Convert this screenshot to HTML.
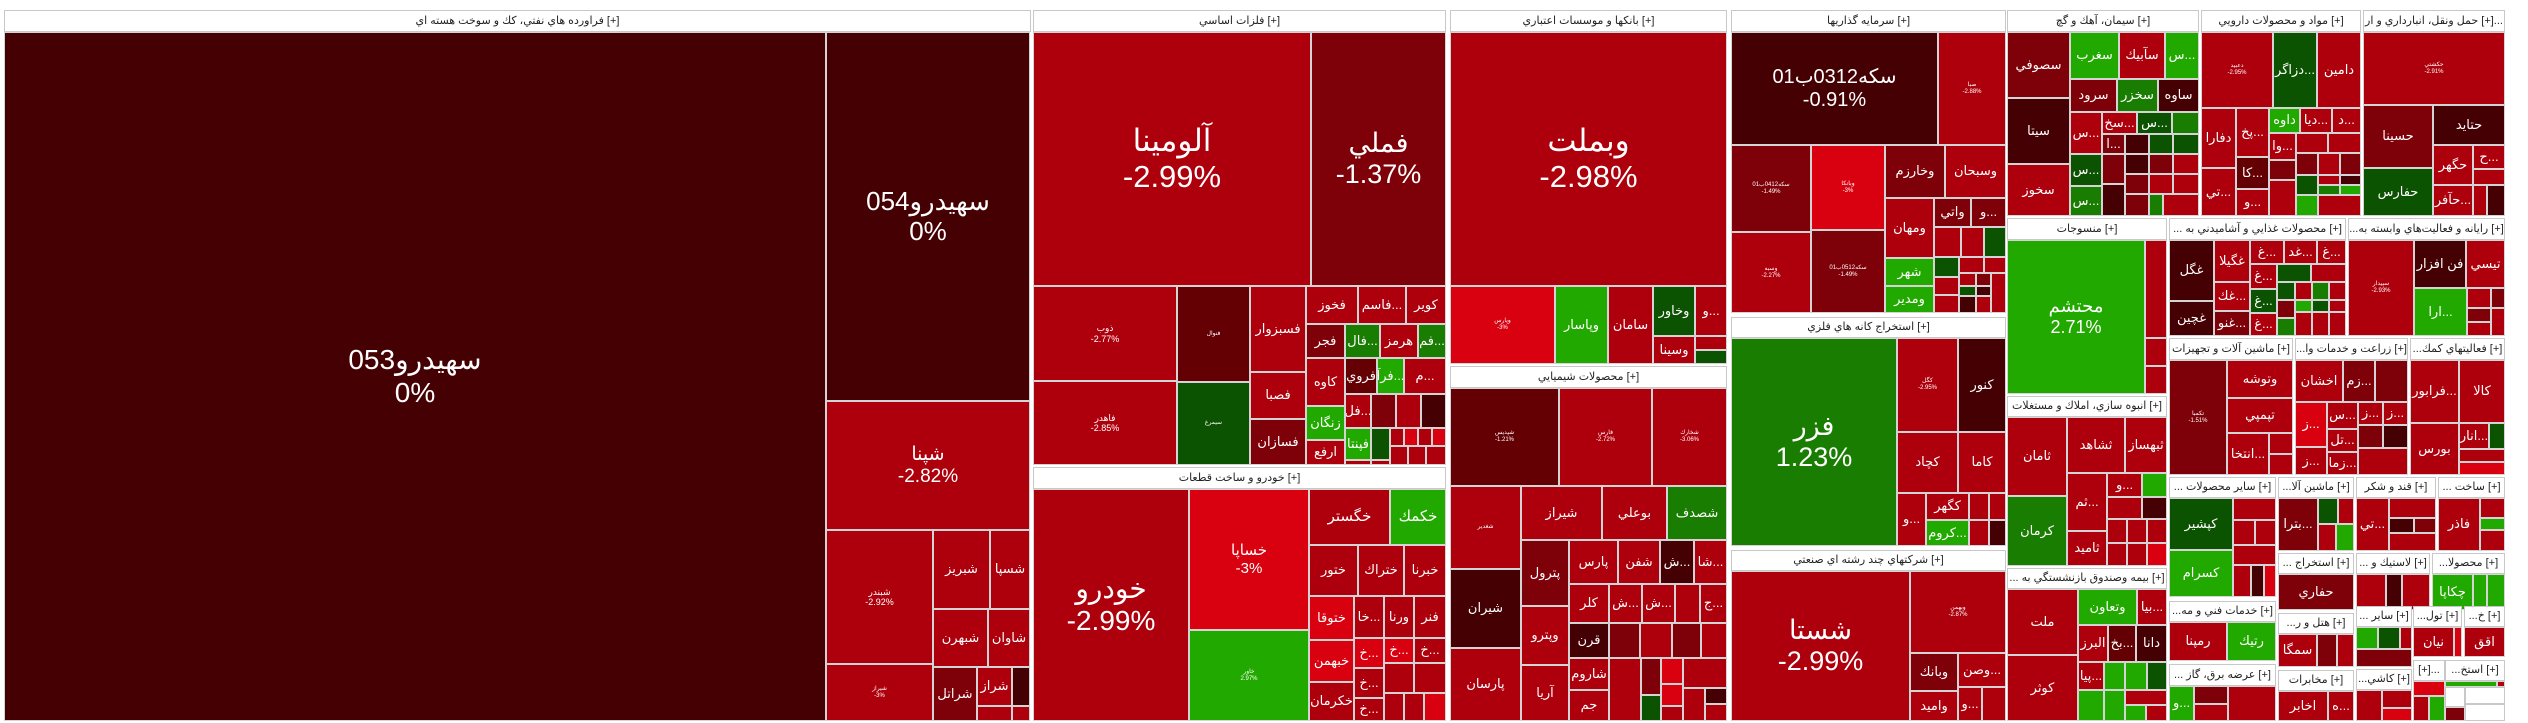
<!DOCTYPE html>
<html><head><meta charset="utf-8"><style>
body{margin:0;width:2528px;height:723px;background:#fff;position:relative;overflow:hidden}
.t{position:absolute;box-sizing:border-box;border:1px solid #d4d4d4;color:#fff;display:flex;flex-direction:column;align-items:center;justify-content:center;text-align:center;overflow:hidden;white-space:nowrap;font-family:"Liberation Sans","DejaVu Sans",sans-serif;font-size:13px;line-height:1.15}
.h{background:#fff;color:#222;font-size:11px;border:1px solid #c8c8c8}
.d{background:#450003}.r3{background:#640004}.r2{background:#7e0008}.r1{background:#ad000c}.br{background:#d9000f}
.g1{background:#22a900}.g2{background:#187d00}.g3{background:#0b5300}
.s{font-size:6px}.m{font-size:9px}
</style></head><body>
<!-- Oil -->
<div class="t h" style="left:4px;top:10px;width:1027px;height:22px">فراورده هاي نفتي، كك و سوخت هسته اي [+]</div>
<div class="t d" style="left:4px;top:32px;width:822px;height:689px;font-size:28px">سهيدرو053<br>0%</div>
<div class="t d" style="left:826px;top:32px;width:204px;height:369px;font-size:26px">سهيدرو054<br>0%</div>
<div class="t r1" style="left:826px;top:401px;width:204px;height:129px;font-size:19px">شپنا<br>-2.82%</div>
<div class="t r1 m" style="left:826px;top:530px;width:107px;height:134px">شبندر<br>-2.92%</div>
<div class="t r1" style="left:933px;top:530px;width:57px;height:79px">شبريز</div>
<div class="t r1" style="left:990px;top:530px;width:40px;height:79px">شسپا</div>
<div class="t r1" style="left:933px;top:609px;width:55px;height:58px">شبهرن</div>
<div class="t r1" style="left:988px;top:609px;width:42px;height:58px">شاوان</div>
<div class="t r1 s" style="left:826px;top:664px;width:107px;height:57px">شيراز<br>-3%</div>
<div class="t r2" style="left:933px;top:667px;width:44px;height:54px">شراتل</div>
<div class="t r1" style="left:977px;top:667px;width:35px;height:39px">شراز</div>
<div class="t d" style="left:1012px;top:667px;width:18px;height:39px"></div>
<div class="t r1" style="left:977px;top:706px;width:35px;height:15px"></div>
<div class="t r1" style="left:1012px;top:706px;width:18px;height:15px"></div>
<!-- Metals -->
<div class="t h" style="left:1033px;top:10px;width:413px;height:22px">فلزات اساسي [+]</div>
<div class="t r1" style="left:1033px;top:32px;width:278px;height:254px;font-size:31px">آلومينا<br>-2.99%</div>
<div class="t r2" style="left:1311px;top:32px;width:135px;height:254px;font-size:27px">فملي<br>-1.37%</div>
<div class="t r1 m" style="left:1033px;top:286px;width:144px;height:95px">ذوب<br>-2.77%</div>
<div class="t r1 m" style="left:1033px;top:381px;width:144px;height:84px">فاهدر<br>-2.85%</div>
<div class="t r3 s" style="left:1177px;top:286px;width:73px;height:96px">فنوال</div>
<div class="t g3 s" style="left:1177px;top:382px;width:73px;height:83px">سيمرغ</div>
<div class="t r1" style="left:1250px;top:286px;width:56px;height:86px">فسبزوار</div>
<div class="t r1" style="left:1250px;top:372px;width:56px;height:47px">فصبا</div>
<div class="t r2" style="left:1250px;top:419px;width:56px;height:46px">فسازان</div>
<div class="t r1" style="left:1306px;top:286px;width:52px;height:38px">فخوز</div>
<div class="t r1" style="left:1358px;top:286px;width:48px;height:38px">فاسم...</div>
<div class="t r1" style="left:1406px;top:286px;width:40px;height:38px">كوير</div>
<div class="t r2" style="left:1306px;top:324px;width:39px;height:34px">فجر</div>
<div class="t g2" style="left:1345px;top:324px;width:35px;height:34px">فال...</div>
<div class="t r1" style="left:1380px;top:324px;width:38px;height:34px">هرمز</div>
<div class="t g2" style="left:1418px;top:324px;width:28px;height:34px">فم...</div>
<div class="t r1" style="left:1306px;top:358px;width:39px;height:48px">كاوه</div>
<div class="t r3" style="left:1345px;top:358px;width:32px;height:36px">فروي</div>
<div class="t g1" style="left:1377px;top:358px;width:27px;height:36px">فرآ...</div>
<div class="t r1" style="left:1404px;top:358px;width:42px;height:36px">م...</div>
<div class="t r1" style="left:1345px;top:394px;width:26px;height:34px">فل...</div>
<div class="t r2" style="left:1371px;top:394px;width:25px;height:34px"></div>
<div class="t r1" style="left:1396px;top:394px;width:25px;height:34px"></div>
<div class="t d" style="left:1421px;top:394px;width:25px;height:34px"></div>
<div class="t g1" style="left:1306px;top:406px;width:39px;height:34px">زنگان</div>
<div class="t r1" style="left:1306px;top:440px;width:39px;height:25px">ارفع</div>
<div class="t g1" style="left:1345px;top:428px;width:26px;height:32px">فپنتا</div>
<div class="t r1" style="left:1345px;top:460px;width:26px;height:5px"></div>
<div class="t g3" style="left:1371px;top:428px;width:19px;height:32px"></div>
<div class="t r1" style="left:1371px;top:460px;width:19px;height:5px"></div>
<div class="t r1" style="left:1390px;top:428px;width:14px;height:18px"></div>
<div class="t br" style="left:1404px;top:428px;width:14px;height:18px"></div>
<div class="t r1" style="left:1418px;top:428px;width:14px;height:18px"></div>
<div class="t br" style="left:1432px;top:428px;width:14px;height:18px"></div>
<div class="t r1" style="left:1390px;top:446px;width:18px;height:19px"></div>
<div class="t r1" style="left:1408px;top:446px;width:18px;height:19px"></div>
<div class="t r1" style="left:1426px;top:446px;width:20px;height:19px"></div>
<!-- Auto -->
<div class="t h" style="left:1033px;top:467px;width:413px;height:22px">خودرو و ساخت قطعات [+]</div>
<div class="t r1" style="left:1033px;top:489px;width:156px;height:232px;font-size:28px">خودرو<br>-2.99%</div>
<div class="t br" style="left:1189px;top:489px;width:120px;height:141px;font-size:15px">خساپا<br>-3%</div>
<div class="t g1 s" style="left:1189px;top:630px;width:120px;height:91px">خاور<br>2.97%</div>
<div class="t r1" style="left:1309px;top:489px;width:81px;height:56px;font-size:15px">خگستر</div>
<div class="t g1" style="left:1390px;top:489px;width:56px;height:56px;font-size:15px">خكمك</div>
<div class="t r1" style="left:1309px;top:545px;width:49px;height:51px">ختور</div>
<div class="t r1" style="left:1358px;top:545px;width:46px;height:51px">ختراك</div>
<div class="t r1" style="left:1404px;top:545px;width:42px;height:51px">خبرنا</div>
<div class="t br" style="left:1309px;top:596px;width:45px;height:44px">ختوقا</div>
<div class="t r1" style="left:1354px;top:596px;width:30px;height:42px">خا...</div>
<div class="t r1" style="left:1384px;top:596px;width:30px;height:42px">ورنا</div>
<div class="t r1" style="left:1414px;top:596px;width:32px;height:42px">فنر</div>
<div class="t br" style="left:1309px;top:640px;width:45px;height:42px">خبهمن</div>
<div class="t r1" style="left:1309px;top:682px;width:45px;height:39px">خكرمان</div>
<div class="t br" style="left:1354px;top:638px;width:30px;height:30px">خ...</div>
<div class="t br" style="left:1384px;top:638px;width:30px;height:25px">خ...</div>
<div class="t r1" style="left:1414px;top:638px;width:32px;height:25px">خ...</div>
<div class="t r1" style="left:1354px;top:668px;width:30px;height:30px">خ...</div>
<div class="t r1" style="left:1354px;top:698px;width:30px;height:23px">خ...</div>
<div class="t r1" style="left:1384px;top:663px;width:30px;height:30px"></div>
<div class="t r1" style="left:1414px;top:663px;width:32px;height:30px"></div>
<div class="t r1" style="left:1384px;top:693px;width:20px;height:28px"></div>
<div class="t r1" style="left:1404px;top:693px;width:20px;height:28px"></div>
<div class="t br" style="left:1424px;top:693px;width:22px;height:28px"></div>
<!-- Banks -->
<div class="t h" style="left:1450px;top:10px;width:277px;height:22px">بانكها و موسسات اعتباري [+]</div>
<div class="t r1" style="left:1450px;top:32px;width:277px;height:254px;font-size:31px">وبملت<br>-2.98%</div>
<div class="t br s" style="left:1450px;top:286px;width:105px;height:78px">وپارس<br>-3%</div>
<div class="t g1" style="left:1555px;top:286px;width:53px;height:78px">وپاسار</div>
<div class="t r1" style="left:1608px;top:286px;width:45px;height:78px">سامان</div>
<div class="t g3" style="left:1653px;top:286px;width:42px;height:50px">وخاور</div>
<div class="t r1" style="left:1653px;top:336px;width:42px;height:28px">وسينا</div>
<div class="t r1" style="left:1695px;top:286px;width:32px;height:50px">و...</div>
<div class="t r1" style="left:1695px;top:336px;width:32px;height:14px"></div>
<div class="t g3" style="left:1695px;top:350px;width:32px;height:14px"></div>
<!-- Chem -->
<div class="t h" style="left:1450px;top:366px;width:277px;height:22px">محصولات شيميايي [+]</div>
<div class="t r3 s" style="left:1450px;top:388px;width:109px;height:98px">شپديس<br>-1.21%</div>
<div class="t r1 s" style="left:1559px;top:388px;width:93px;height:98px">فارس<br>-2.72%</div>
<div class="t r1 s" style="left:1652px;top:388px;width:75px;height:98px">شخارك<br>-3.06%</div>
<div class="t r1 s" style="left:1450px;top:486px;width:71px;height:83px">شغدير</div>
<div class="t d" style="left:1450px;top:569px;width:71px;height:79px">شيران</div>
<div class="t r1" style="left:1450px;top:648px;width:71px;height:73px">پارسان</div>
<div class="t r1" style="left:1521px;top:486px;width:81px;height:54px">شيراز</div>
<div class="t r1" style="left:1602px;top:486px;width:65px;height:54px">بوعلي</div>
<div class="t g2" style="left:1667px;top:486px;width:60px;height:54px">شصدف</div>
<div class="t r2" style="left:1521px;top:540px;width:48px;height:66px">پترول</div>
<div class="t r1" style="left:1521px;top:606px;width:48px;height:59px">وپترو</div>
<div class="t r1" style="left:1521px;top:665px;width:48px;height:56px">آريا</div>
<div class="t r1" style="left:1569px;top:540px;width:49px;height:44px">پارس</div>
<div class="t r1" style="left:1618px;top:540px;width:42px;height:44px">شفن</div>
<div class="t d" style="left:1660px;top:540px;width:34px;height:44px">ش...</div>
<div class="t r1" style="left:1694px;top:540px;width:33px;height:44px">شا...</div>
<div class="t r1" style="left:1569px;top:584px;width:40px;height:39px">كلر</div>
<div class="t r1" style="left:1609px;top:584px;width:33px;height:39px">ش...</div>
<div class="t r1" style="left:1642px;top:584px;width:33px;height:39px">ش...</div>
<div class="t r1" style="left:1675px;top:584px;width:25px;height:39px"></div>
<div class="t r1" style="left:1700px;top:584px;width:27px;height:39px">ج...</div>
<div class="t d" style="left:1569px;top:623px;width:40px;height:35px">قرن</div>
<div class="t r2" style="left:1609px;top:623px;width:31px;height:35px"></div>
<div class="t r1" style="left:1640px;top:623px;width:32px;height:35px"></div>
<div class="t r2" style="left:1672px;top:623px;width:29px;height:35px"></div>
<div class="t r1" style="left:1701px;top:623px;width:26px;height:35px"></div>
<div class="t r1" style="left:1569px;top:658px;width:40px;height:32px">شاروم</div>
<div class="t r1" style="left:1569px;top:690px;width:40px;height:31px">جم</div>
<div class="t r1" style="left:1609px;top:658px;width:32px;height:63px"></div>
<div class="t r2" style="left:1641px;top:658px;width:20px;height:37px"></div>
<div class="t g3" style="left:1641px;top:695px;width:20px;height:26px"></div>
<div class="t br" style="left:1661px;top:658px;width:22px;height:26px"></div>
<div class="t br" style="left:1661px;top:684px;width:22px;height:22px"></div>
<div class="t r1" style="left:1661px;top:706px;width:22px;height:15px"></div>
<div class="t r1" style="left:1683px;top:658px;width:44px;height:30px"></div>
<div class="t r1" style="left:1683px;top:688px;width:22px;height:33px"></div>
<div class="t d" style="left:1705px;top:688px;width:22px;height:16px"></div>
<div class="t r1" style="left:1705px;top:704px;width:22px;height:17px"></div>
<!-- Investment -->
<div class="t h" style="left:1731px;top:10px;width:275px;height:22px">سرمايه گذاريها [+]</div>
<div class="t d" style="left:1731px;top:32px;width:207px;height:113px;font-size:20px">سكه0312ب01<br>-0.91%</div>
<div class="t r1 s" style="left:1938px;top:32px;width:68px;height:113px">صبا<br>-2.88%</div>
<div class="t r2 s" style="left:1731px;top:145px;width:80px;height:87px">سكه0412ب01<br>-1.49%</div>
<div class="t r1 s" style="left:1731px;top:232px;width:80px;height:81px">وسبه<br>-2.27%</div>
<div class="t br s" style="left:1811px;top:145px;width:74px;height:85px">وبانكا<br>-3%</div>
<div class="t r2 s" style="left:1811px;top:230px;width:74px;height:83px">سكه0512ب01<br>-1.49%</div>
<div class="t r2" style="left:1885px;top:145px;width:60px;height:53px">وخارزم</div>
<div class="t r1" style="left:1945px;top:145px;width:61px;height:53px">وسبحان</div>
<div class="t r1" style="left:1885px;top:198px;width:49px;height:60px">ومهان</div>
<div class="t r2" style="left:1934px;top:198px;width:37px;height:29px">واتي</div>
<div class="t r2" style="left:1971px;top:198px;width:35px;height:29px">و...</div>
<div class="t g1" style="left:1885px;top:258px;width:49px;height:28px">شهر</div>
<div class="t g1" style="left:1885px;top:286px;width:49px;height:27px">ومدير</div>
<div class="t r1" style="left:1934px;top:227px;width:27px;height:30px"></div>
<div class="t r1" style="left:1961px;top:227px;width:23px;height:30px"></div>
<div class="t g3" style="left:1984px;top:227px;width:22px;height:30px"></div>
<div class="t g3" style="left:1934px;top:257px;width:25px;height:20px"></div>
<div class="t r1" style="left:1959px;top:257px;width:25px;height:16px"></div>
<div class="t r1" style="left:1984px;top:257px;width:22px;height:16px"></div>
<div class="t r1" style="left:1934px;top:277px;width:25px;height:18px"></div>
<div class="t r1" style="left:1934px;top:295px;width:25px;height:18px"></div>
<div class="t r1" style="left:1959px;top:273px;width:17px;height:13px"></div>
<div class="t r2" style="left:1976px;top:273px;width:15px;height:13px"></div>
<div class="t g3" style="left:1959px;top:286px;width:17px;height:10px"></div>
<div class="t d" style="left:1976px;top:286px;width:15px;height:10px"></div>
<div class="t d" style="left:1959px;top:296px;width:17px;height:17px"></div>
<div class="t r1" style="left:1976px;top:296px;width:15px;height:17px"></div>
<div class="t r1" style="left:1991px;top:273px;width:15px;height:40px"></div>
<!-- Mining -->
<div class="t h" style="left:1731px;top:317px;width:275px;height:21px">استخراج كانه هاي فلزي [+]</div>
<div class="t g2" style="left:1731px;top:338px;width:166px;height:208px;font-size:27px">فزر<br>1.23%</div>
<div class="t r1 s" style="left:1897px;top:338px;width:61px;height:94px">كگل<br>-2.95%</div>
<div class="t d" style="left:1958px;top:338px;width:48px;height:94px">كنور</div>
<div class="t r1" style="left:1897px;top:432px;width:61px;height:61px">كچاد</div>
<div class="t r1" style="left:1958px;top:432px;width:48px;height:61px">كاما</div>
<div class="t r1" style="left:1897px;top:493px;width:29px;height:53px">و...</div>
<div class="t r1" style="left:1926px;top:493px;width:43px;height:27px">كگهر</div>
<div class="t g1" style="left:1926px;top:520px;width:43px;height:26px">كروم...</div>
<div class="t r1" style="left:1969px;top:493px;width:20px;height:27px"></div>
<div class="t r1" style="left:1989px;top:493px;width:17px;height:27px"></div>
<div class="t r1" style="left:1969px;top:520px;width:20px;height:26px"></div>
<div class="t d" style="left:1989px;top:520px;width:17px;height:26px"></div>
<!-- Multi -->
<div class="t h" style="left:1731px;top:550px;width:275px;height:21px">شركتهاي چند رشته اي صنعتي [+]</div>
<div class="t r1" style="left:1731px;top:571px;width:179px;height:150px;font-size:27px">شستا<br>-2.99%</div>
<div class="t r1 s" style="left:1910px;top:571px;width:96px;height:82px">وبهمن<br>-2.87%</div>
<div class="t r2" style="left:1910px;top:653px;width:48px;height:38px">وبانك</div>
<div class="t r1" style="left:1910px;top:691px;width:48px;height:30px">واميد</div>
<div class="t r1" style="left:1958px;top:653px;width:48px;height:34px">وصن...</div>
<div class="t r1" style="left:1958px;top:687px;width:24px;height:34px">و...</div>
<div class="t r1" style="left:1982px;top:687px;width:24px;height:34px"></div>
<!-- Cement -->
<div class="t h" style="left:2007px;top:10px;width:192px;height:22px">سيمان، آهك و گچ [+]</div>
<div class="t r2" style="left:2007px;top:32px;width:63px;height:66px">سصوفي</div>
<div class="t d" style="left:2007px;top:98px;width:63px;height:66px">سيتا</div>
<div class="t r1" style="left:2007px;top:164px;width:63px;height:52px">سخوز</div>
<div class="t g1" style="left:2070px;top:32px;width:49px;height:47px">سغرب</div>
<div class="t r1" style="left:2119px;top:32px;width:46px;height:47px">سآبيك</div>
<div class="t g1" style="left:2165px;top:32px;width:34px;height:47px">س...</div>
<div class="t r2" style="left:2070px;top:79px;width:47px;height:33px">سرود</div>
<div class="t g2" style="left:2117px;top:79px;width:41px;height:33px">سخزر</div>
<div class="t d" style="left:2158px;top:79px;width:41px;height:33px">ساوه</div>
<div class="t r1" style="left:2070px;top:112px;width:32px;height:42px">س...</div>
<div class="t r1" style="left:2102px;top:112px;width:35px;height:22px">سخ...</div>
<div class="t g3" style="left:2137px;top:112px;width:35px;height:22px">س...</div>
<div class="t g2" style="left:2172px;top:112px;width:27px;height:22px"></div>
<div class="t r2" style="left:2102px;top:134px;width:23px;height:20px">ا...</div>
<div class="t d" style="left:2125px;top:134px;width:24px;height:20px"></div>
<div class="t g3" style="left:2149px;top:134px;width:24px;height:20px"></div>
<div class="t g3" style="left:2173px;top:134px;width:26px;height:20px"></div>
<div class="t g3" style="left:2070px;top:154px;width:32px;height:32px">س...</div>
<div class="t g2" style="left:2070px;top:186px;width:32px;height:30px">س...</div>
<div class="t r2" style="left:2102px;top:154px;width:23px;height:30px"></div>
<div class="t d" style="left:2125px;top:154px;width:24px;height:20px"></div>
<div class="t r2" style="left:2149px;top:154px;width:24px;height:20px"></div>
<div class="t r1" style="left:2173px;top:154px;width:26px;height:20px"></div>
<div class="t r2" style="left:2125px;top:174px;width:24px;height:20px"></div>
<div class="t r1" style="left:2149px;top:174px;width:24px;height:20px"></div>
<div class="t r1" style="left:2173px;top:174px;width:26px;height:20px"></div>
<div class="t d" style="left:2102px;top:184px;width:23px;height:32px"></div>
<div class="t r2" style="left:2125px;top:194px;width:24px;height:22px"></div>
<div class="t g2" style="left:2149px;top:194px;width:14px;height:22px"></div>
<div class="t r1" style="left:2163px;top:194px;width:36px;height:22px"></div>
<!-- Pharma -->
<div class="t h" style="left:2201px;top:10px;width:160px;height:22px">مواد و محصولات دارويي [+]</div>
<div class="t r1 s" style="left:2201px;top:32px;width:72px;height:76px">دعبيد<br>-2.95%</div>
<div class="t g3" style="left:2273px;top:32px;width:44px;height:76px">دزاگر...</div>
<div class="t r1" style="left:2317px;top:32px;width:44px;height:76px">دامين</div>
<div class="t r1" style="left:2201px;top:108px;width:35px;height:60px">دفارا</div>
<div class="t r1" style="left:2201px;top:168px;width:35px;height:48px">تي...</div>
<div class="t r1" style="left:2236px;top:108px;width:33px;height:49px">پخ...</div>
<div class="t r3" style="left:2236px;top:157px;width:33px;height:32px">كا...</div>
<div class="t r1" style="left:2236px;top:189px;width:33px;height:27px">و...</div>
<div class="t g1" style="left:2269px;top:108px;width:31px;height:25px">داوه</div>
<div class="t r1" style="left:2300px;top:108px;width:32px;height:25px">ديا...</div>
<div class="t r1" style="left:2332px;top:108px;width:29px;height:25px">د...</div>
<div class="t r1" style="left:2269px;top:133px;width:27px;height:27px">وا...</div>
<div class="t r1" style="left:2296px;top:133px;width:32px;height:20px"></div>
<div class="t r1" style="left:2328px;top:133px;width:33px;height:20px"></div>
<div class="t r2" style="left:2269px;top:160px;width:27px;height:20px"></div>
<div class="t r2" style="left:2296px;top:153px;width:22px;height:22px"></div>
<div class="t r1" style="left:2318px;top:153px;width:22px;height:22px"></div>
<div class="t r2" style="left:2340px;top:153px;width:21px;height:22px"></div>
<div class="t r1" style="left:2269px;top:180px;width:27px;height:36px"></div>
<div class="t g3" style="left:2296px;top:175px;width:22px;height:20px"></div>
<div class="t r1" style="left:2318px;top:175px;width:22px;height:10px"></div>
<div class="t g2" style="left:2318px;top:185px;width:22px;height:10px"></div>
<div class="t d" style="left:2340px;top:175px;width:21px;height:10px"></div>
<div class="t g1" style="left:2340px;top:185px;width:21px;height:10px"></div>
<div class="t g1" style="left:2296px;top:195px;width:22px;height:21px"></div>
<div class="t r1" style="left:2318px;top:195px;width:43px;height:21px"></div>
<!-- Transport -->
<div class="t h" style="left:2363px;top:10px;width:142px;height:22px">حمل ونقل، انبارداري و ار [+]...</div>
<div class="t r1 s" style="left:2363px;top:32px;width:142px;height:73px">حكشتي<br>-2.91%</div>
<div class="t r2" style="left:2363px;top:105px;width:70px;height:63px">حسينا</div>
<div class="t d" style="left:2433px;top:105px;width:72px;height:40px">حتايد</div>
<div class="t g3" style="left:2363px;top:168px;width:70px;height:48px">حفارس</div>
<div class="t r1" style="left:2433px;top:145px;width:40px;height:40px">حگهر</div>
<div class="t r1" style="left:2473px;top:145px;width:32px;height:24px">ح...</div>
<div class="t r1" style="left:2473px;top:169px;width:32px;height:16px"></div>
<div class="t r1" style="left:2433px;top:185px;width:40px;height:31px">حآفر...</div>
<div class="t r1" style="left:2473px;top:185px;width:14px;height:31px"></div>
<div class="t d" style="left:2487px;top:185px;width:18px;height:31px"></div>
<!-- Textiles -->
<div class="t h" style="left:2007px;top:218px;width:160px;height:22px">منسوجات [+]</div>
<div class="t g1" style="left:2007px;top:240px;width:138px;height:154px;font-size:18px">محتشم<br>2.71%</div>
<div class="t r1" style="left:2145px;top:240px;width:22px;height:98px"></div>
<div class="t r1" style="left:2145px;top:338px;width:22px;height:28px"></div>
<div class="t r1" style="left:2145px;top:366px;width:22px;height:28px"></div>
<!-- Construction -->
<div class="t h" style="left:2007px;top:396px;width:160px;height:21px">انبوه سازي، املاك و مستغلات [+]</div>
<div class="t r1" style="left:2007px;top:417px;width:60px;height:79px">ثامان</div>
<div class="t g2" style="left:2007px;top:496px;width:60px;height:70px">كرمان</div>
<div class="t r1" style="left:2067px;top:417px;width:58px;height:56px">ثشاهد</div>
<div class="t r1" style="left:2125px;top:417px;width:42px;height:56px">ثبهساز</div>
<div class="t r1" style="left:2067px;top:473px;width:40px;height:58px">ثم...</div>
<div class="t r1" style="left:2067px;top:531px;width:40px;height:35px">ثاميد</div>
<div class="t r1" style="left:2107px;top:473px;width:35px;height:24px">و...</div>
<div class="t g1" style="left:2142px;top:473px;width:25px;height:24px"></div>
<div class="t r1" style="left:2107px;top:497px;width:35px;height:22px"></div>
<div class="t d" style="left:2142px;top:497px;width:25px;height:22px"></div>
<div class="t r1" style="left:2107px;top:519px;width:20px;height:24px"></div>
<div class="t r1" style="left:2127px;top:519px;width:20px;height:24px"></div>
<div class="t r1" style="left:2147px;top:519px;width:20px;height:24px"></div>
<div class="t r1" style="left:2107px;top:543px;width:20px;height:23px"></div>
<div class="t r1" style="left:2127px;top:543px;width:20px;height:23px"></div>
<div class="t br" style="left:2147px;top:543px;width:20px;height:23px"></div>
<!-- Insurance -->
<div class="t h" style="left:2007px;top:568px;width:160px;height:21px">... بيمه وصندوق بازنشستگي به [+]</div>
<div class="t r1" style="left:2007px;top:589px;width:71px;height:66px">ملت</div>
<div class="t r1" style="left:2007px;top:655px;width:71px;height:66px">كوثر</div>
<div class="t g1" style="left:2078px;top:589px;width:59px;height:36px">وتعاون</div>
<div class="t r1" style="left:2137px;top:589px;width:30px;height:36px">بيا...</div>
<div class="t r1" style="left:2078px;top:625px;width:30px;height:37px">البرز</div>
<div class="t r3" style="left:2108px;top:625px;width:28px;height:37px">بخ...</div>
<div class="t d" style="left:2136px;top:625px;width:31px;height:37px">دانا</div>
<div class="t r1" style="left:2078px;top:662px;width:26px;height:28px">پيا...</div>
<div class="t g1" style="left:2104px;top:662px;width:21px;height:28px"></div>
<div class="t g1" style="left:2125px;top:662px;width:22px;height:28px"></div>
<div class="t g3" style="left:2147px;top:662px;width:20px;height:28px"></div>
<div class="t g1" style="left:2078px;top:690px;width:26px;height:31px"></div>
<div class="t g1" style="left:2104px;top:690px;width:21px;height:31px"></div>
<div class="t r1" style="left:2125px;top:690px;width:42px;height:15px"></div>
<div class="t g1" style="left:2125px;top:705px;width:21px;height:16px"></div>
<div class="t r1" style="left:2146px;top:705px;width:21px;height:16px"></div>
<!-- Food -->
<div class="t h" style="left:2169px;top:218px;width:177px;height:22px">... محصولات غذايي و آشاميدني به [+]</div>
<div class="t d" style="left:2169px;top:240px;width:45px;height:61px">غگل</div>
<div class="t d" style="left:2169px;top:301px;width:45px;height:35px">غچين</div>
<div class="t r1" style="left:2214px;top:240px;width:36px;height:42px">غگيلا</div>
<div class="t r1" style="left:2214px;top:282px;width:36px;height:29px">غك...</div>
<div class="t r2" style="left:2214px;top:311px;width:36px;height:25px">غنو...</div>
<div class="t r1" style="left:2250px;top:240px;width:34px;height:24px">غ...</div>
<div class="t r1" style="left:2284px;top:240px;width:33px;height:24px">غد...</div>
<div class="t r1" style="left:2317px;top:240px;width:29px;height:24px">غ...</div>
<div class="t r1" style="left:2250px;top:264px;width:27px;height:25px">غ...</div>
<div class="t g3" style="left:2250px;top:289px;width:27px;height:24px">غ...</div>
<div class="t r1" style="left:2250px;top:313px;width:27px;height:23px">غ...</div>
<div class="t g3" style="left:2277px;top:264px;width:34px;height:18px"></div>
<div class="t r1" style="left:2311px;top:264px;width:35px;height:18px"></div>
<div class="t g3" style="left:2277px;top:282px;width:18px;height:18px"></div>
<div class="t r1" style="left:2295px;top:282px;width:17px;height:18px"></div>
<div class="t g2" style="left:2312px;top:282px;width:17px;height:18px"></div>
<div class="t r1" style="left:2329px;top:282px;width:17px;height:18px"></div>
<div class="t r2" style="left:2277px;top:300px;width:18px;height:18px"></div>
<div class="t g1" style="left:2295px;top:300px;width:17px;height:12px"></div>
<div class="t g3" style="left:2312px;top:300px;width:17px;height:12px"></div>
<div class="t r1" style="left:2329px;top:300px;width:17px;height:12px"></div>
<div class="t g2" style="left:2277px;top:318px;width:18px;height:18px"></div>
<div class="t r1" style="left:2295px;top:312px;width:17px;height:24px"></div>
<div class="t r1" style="left:2312px;top:312px;width:17px;height:24px"></div>
<div class="t r1" style="left:2329px;top:312px;width:17px;height:24px"></div>
<!-- Computer -->
<div class="t h" style="left:2348px;top:218px;width:157px;height:22px">...رايانه و فعاليت‌هاي وابسته به [+]</div>
<div class="t r1 s" style="left:2348px;top:240px;width:66px;height:96px">سپيدار<br>-2.93%</div>
<div class="t d" style="left:2414px;top:240px;width:52px;height:48px">فن افزار</div>
<div class="t r1" style="left:2466px;top:240px;width:39px;height:48px">تيسي</div>
<div class="t g1" style="left:2414px;top:288px;width:53px;height:48px">ارا...</div>
<div class="t r1" style="left:2467px;top:288px;width:24px;height:20px"></div>
<div class="t r2" style="left:2491px;top:288px;width:14px;height:20px"></div>
<div class="t r2" style="left:2467px;top:308px;width:24px;height:14px"></div>
<div class="t r1" style="left:2491px;top:308px;width:14px;height:28px"></div>
<div class="t r1" style="left:2467px;top:322px;width:24px;height:14px"></div>
<!-- Machinery -->
<div class="t h" style="left:2169px;top:338px;width:124px;height:22px">ماشين آلات و تجهيزات [+]</div>
<div class="t r2 s" style="left:2169px;top:360px;width:58px;height:115px">تكمبا<br>-1.51%</div>
<div class="t r1" style="left:2227px;top:360px;width:66px;height:38px">وتوشه</div>
<div class="t r1" style="left:2227px;top:398px;width:66px;height:35px">تپمپي</div>
<div class="t r1" style="left:2227px;top:433px;width:42px;height:42px">انتخا...</div>
<div class="t r1" style="left:2269px;top:433px;width:24px;height:21px"></div>
<div class="t r1" style="left:2269px;top:454px;width:24px;height:21px"></div>
<!-- Agri -->
<div class="t h" style="left:2295px;top:338px;width:113px;height:22px">...زراعت و خدمات وا [+]</div>
<div class="t r1" style="left:2295px;top:360px;width:48px;height:42px">اخشان</div>
<div class="t r2" style="left:2343px;top:360px;width:32px;height:42px">زم...</div>
<div class="t r2" style="left:2375px;top:360px;width:33px;height:42px"></div>
<div class="t br" style="left:2295px;top:402px;width:32px;height:45px">ز...</div>
<div class="t r1" style="left:2295px;top:447px;width:32px;height:28px">ز...</div>
<div class="t r1" style="left:2327px;top:402px;width:31px;height:27px">س...</div>
<div class="t r1" style="left:2358px;top:402px;width:25px;height:23px">ز...</div>
<div class="t r1" style="left:2383px;top:402px;width:25px;height:23px">ز...</div>
<div class="t r1" style="left:2327px;top:429px;width:31px;height:23px">تل...</div>
<div class="t r1" style="left:2327px;top:452px;width:31px;height:23px">زما...</div>
<div class="t r2" style="left:2358px;top:425px;width:25px;height:23px"></div>
<div class="t d" style="left:2383px;top:425px;width:25px;height:23px"></div>
<div class="t r1" style="left:2358px;top:448px;width:50px;height:27px"></div>
<!-- Support -->
<div class="t h" style="left:2410px;top:338px;width:95px;height:22px">...فعاليتهاي كمك [+]</div>
<div class="t r1" style="left:2410px;top:360px;width:49px;height:63px">فرابور...</div>
<div class="t r1" style="left:2459px;top:360px;width:46px;height:63px">كالا</div>
<div class="t r1" style="left:2410px;top:423px;width:49px;height:52px">بورس</div>
<div class="t r1" style="left:2459px;top:423px;width:30px;height:26px">انار...</div>
<div class="t g3" style="left:2489px;top:423px;width:16px;height:26px"></div>
<div class="t r1" style="left:2459px;top:449px;width:46px;height:13px"></div>
<div class="t br" style="left:2459px;top:462px;width:46px;height:13px"></div>
<!-- row -->
<div class="t h" style="left:2169px;top:477px;width:107px;height:21px">... ساير محصولات [+]</div>
<div class="t g3" style="left:2169px;top:498px;width:64px;height:52px">كپشير</div>
<div class="t g1" style="left:2169px;top:550px;width:64px;height:47px">كسرام</div>
<div class="t r1" style="left:2233px;top:498px;width:43px;height:22px"></div>
<div class="t r1" style="left:2233px;top:520px;width:22px;height:25px"></div>
<div class="t r1" style="left:2255px;top:520px;width:21px;height:25px"></div>
<div class="t r1" style="left:2233px;top:545px;width:43px;height:20px"></div>
<div class="t r1" style="left:2233px;top:565px;width:18px;height:32px"></div>
<div class="t d" style="left:2251px;top:565px;width:13px;height:32px"></div>
<div class="t br" style="left:2264px;top:565px;width:12px;height:32px"></div>
<div class="t h" style="left:2278px;top:477px;width:76px;height:21px">...ماشين آلا [+]</div>
<div class="t r2" style="left:2278px;top:498px;width:40px;height:53px">بترا...</div>
<div class="t g3" style="left:2318px;top:498px;width:20px;height:26px"></div>
<div class="t r1" style="left:2338px;top:498px;width:16px;height:26px"></div>
<div class="t r1" style="left:2318px;top:524px;width:18px;height:27px"></div>
<div class="t g1" style="left:2336px;top:524px;width:18px;height:27px"></div>
<div class="t h" style="left:2356px;top:477px;width:80px;height:21px">قند و شكر [+]</div>
<div class="t r1" style="left:2356px;top:498px;width:33px;height:53px">تي...</div>
<div class="t r1" style="left:2389px;top:498px;width:47px;height:20px"></div>
<div class="t d" style="left:2389px;top:518px;width:25px;height:15px"></div>
<div class="t r2" style="left:2414px;top:518px;width:22px;height:15px"></div>
<div class="t r1" style="left:2389px;top:533px;width:47px;height:18px"></div>
<div class="t h" style="left:2438px;top:477px;width:67px;height:21px">... ساخت [+]</div>
<div class="t r1" style="left:2438px;top:498px;width:42px;height:53px">فاذر</div>
<div class="t r1" style="left:2480px;top:498px;width:25px;height:20px"></div>
<div class="t g1" style="left:2480px;top:518px;width:25px;height:12px"></div>
<div class="t r1" style="left:2480px;top:530px;width:25px;height:21px"></div>
<div class="t h" style="left:2169px;top:601px;width:107px;height:21px">...خدمات فني و مه [+]</div>
<div class="t r1" style="left:2169px;top:622px;width:58px;height:39px">رمپنا</div>
<div class="t g1" style="left:2227px;top:622px;width:49px;height:39px">رتيك</div>
<div class="t h" style="left:2169px;top:664px;width:107px;height:22px">... عرضه برق، گاز [+]</div>
<div class="t g1" style="left:2169px;top:686px;width:25px;height:35px">و...</div>
<div class="t r2" style="left:2194px;top:686px;width:34px;height:18px"></div>
<div class="t r1" style="left:2194px;top:704px;width:34px;height:17px"></div>
<div class="t r1" style="left:2228px;top:686px;width:48px;height:35px"></div>
<div class="t h" style="left:2278px;top:553px;width:76px;height:21px">... استخراج [+]</div>
<div class="t r2" style="left:2278px;top:574px;width:76px;height:36px">حفاري</div>
<div class="t h" style="left:2278px;top:613px;width:76px;height:21px">...هتل و ر [+]</div>
<div class="t r1" style="left:2278px;top:634px;width:39px;height:33px">سمگا</div>
<div class="t r2" style="left:2317px;top:634px;width:20px;height:33px"></div>
<div class="t r1" style="left:2337px;top:634px;width:17px;height:33px"></div>
<div class="t h" style="left:2278px;top:670px;width:76px;height:21px">مخابرات [+]</div>
<div class="t r1" style="left:2278px;top:691px;width:50px;height:30px">اخابر</div>
<div class="t r1" style="left:2328px;top:691px;width:26px;height:30px">ه...</div>
<div class="t h" style="left:2356px;top:553px;width:74px;height:21px">... لاستيك و [+]</div>
<div class="t r1" style="left:2356px;top:574px;width:30px;height:36px"></div>
<div class="t d" style="left:2386px;top:574px;width:16px;height:36px"></div>
<div class="t r1" style="left:2402px;top:574px;width:28px;height:36px"></div>
<div class="t h" style="left:2432px;top:553px;width:73px;height:21px">...محصولا [+]</div>
<div class="t g1" style="left:2432px;top:574px;width:41px;height:36px">چكاپا</div>
<div class="t g1" style="left:2473px;top:574px;width:14px;height:36px"></div>
<div class="t g1" style="left:2487px;top:574px;width:18px;height:36px"></div>
<div class="t h" style="left:2356px;top:606px;width:56px;height:21px">... ساير [+]</div>
<div class="t g1" style="left:2356px;top:627px;width:22px;height:22px"></div>
<div class="t g3" style="left:2378px;top:627px;width:22px;height:22px"></div>
<div class="t r1" style="left:2400px;top:627px;width:12px;height:22px"></div>
<div class="t r2" style="left:2356px;top:649px;width:56px;height:18px"></div>
<div class="t h" style="left:2413px;top:606px;width:49px;height:21px">...تول [+]</div>
<div class="t r1" style="left:2413px;top:627px;width:41px;height:30px">نيان</div>
<div class="t br" style="left:2454px;top:627px;width:8px;height:30px"></div>
<div class="t h" style="left:2464px;top:606px;width:41px;height:21px">...خ [+]</div>
<div class="t r1" style="left:2464px;top:627px;width:41px;height:30px">اقق</div>
<div class="t h" style="left:2356px;top:669px;width:56px;height:21px">...كاشي [+]</div>
<div class="t r1" style="left:2356px;top:690px;width:26px;height:31px"></div>
<div class="t r1" style="left:2382px;top:690px;width:30px;height:18px"></div>
<div class="t br" style="left:2382px;top:708px;width:30px;height:13px"></div>
<div class="t h" style="left:2413px;top:660px;width:32px;height:21px">[+]...</div>
<div class="t br" style="left:2413px;top:681px;width:32px;height:15px"></div>
<div class="t r1" style="left:2413px;top:696px;width:16px;height:25px"></div>
<div class="t g1" style="left:2429px;top:696px;width:16px;height:25px"></div>
<div class="t h" style="left:2445px;top:660px;width:60px;height:21px">...استخ [+]</div>
<div class="t g1" style="left:2445px;top:681px;width:52px;height:6px"></div>
<div class="t r1" style="left:2497px;top:681px;width:8px;height:6px"></div>
<div class="t h" style="left:2445px;top:687px;width:20px;height:20px"></div>
<div class="t h" style="left:2465px;top:687px;width:40px;height:17px"></div>
<div class="t r2" style="left:2445px;top:707px;width:20px;height:14px"></div>
<div class="t h" style="left:2465px;top:704px;width:40px;height:17px"></div>
</body></html>
